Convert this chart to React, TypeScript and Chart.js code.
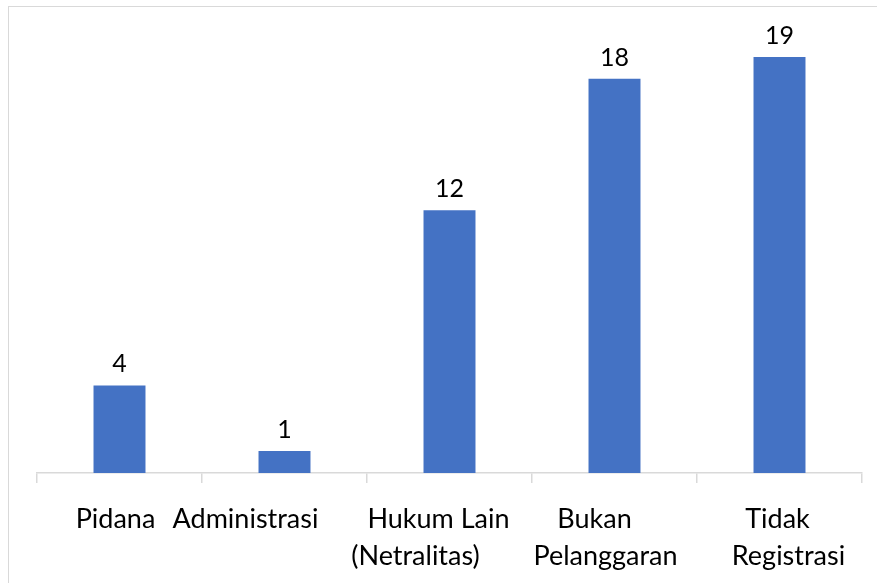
import React, { useEffect, useRef } from "react";
import { Chart, registerables } from "chart.js";

Chart.register(...registerables);

const categories: string[][] = [
  ["Pidana"],
  ["Administrasi"],
  ["Hukum Lain", "(Netralitas)"],
  ["Bukan", "Pelanggaran"],
  ["Tidak", "Registrasi"],
];
const values: number[] = [4, 1, 12, 18, 19];
const yMin = 0;
const yMax = 20;

// horizontal nudges of each wrapped label line (as laid out in the original)
const labelShift: number[][] = [[-4], [-39], [-11, -34], [-20, -9], [-2, 9]];

const FONT = "Lato, 'Open Sans', sans-serif";
const BAR = "#4472C4";
const AXIS = "#d9d9d9";

const valueLabels = {
  id: "valueLabels",
  afterDatasetsDraw(chart: any) {
    const ctx = chart.ctx;
    const meta = chart.getDatasetMeta(0);
    const data = chart.data.datasets[0].data as number[];
    ctx.save();
    ctx.font = `25px ${FONT}`;
    ctx.fillStyle = "#000";
    ctx.textAlign = "center";
    ctx.textBaseline = "alphabetic";
    meta.data.forEach((el: any, i: number) => {
      ctx.fillText(String(data[i]), el.x, el.y - 13);
    });
    ctx.restore();
  },
};

const categoryLabels = {
  id: "categoryLabels",
  afterDraw(chart: any) {
    const ctx = chart.ctx;
    const sx = chart.scales.x;
    const bottom = chart.chartArea.bottom;
    ctx.save();
    ctx.font = `27px ${FONT}`;
    ctx.fillStyle = "#000";
    ctx.textAlign = "center";
    ctx.textBaseline = "alphabetic";
    categories.forEach((lines, i) => {
      const cx = sx.getPixelForValue(i);
      lines.forEach((line, j) => {
        const dx = (labelShift[i] && labelShift[i][j]) || 0;
        ctx.fillText(line, cx + dx, bottom + 55 + j * 37);
      });
    });
    ctx.restore();
  },
};

export default function App() {
  const ref = useRef<HTMLCanvasElement | null>(null);
  useEffect(() => {
    if (!ref.current) return;
    const chart = new Chart(ref.current, {
      type: "bar",
      data: {
        labels: categories.map((c) => c.join(" ")),
        datasets: [
          {
            data: values,
            backgroundColor: BAR,
            barPercentage: 0.315,
            categoryPercentage: 1,
          },
        ],
      },
      options: {
        animation: false,
        responsive: false,
        maintainAspectRatio: false,
        layout: { padding: { left: 37, right: 15, top: 35, bottom: 100 } },
        plugins: { legend: { display: false }, tooltip: { enabled: false } },
        scales: {
          y: { display: false, min: yMin, max: yMax },
          x: {
            grid: {
              drawOnChartArea: false,
              drawTicks: true,
              tickLength: 10,
              color: AXIS,
              lineWidth: 1.5,
            },
            border: { display: true, color: AXIS, width: 1.5 },
            ticks: { display: false },
          },
        },
      },
      plugins: [valueLabels, categoryLabels],
    });
    return () => chart.destroy();
  }, []);
  return (
    <div>
      <div
        style={{
          position: "fixed",
          left: 8,
          top: 6,
          width: 1000,
          height: 1000,
          borderLeft: `1.5px solid ${AXIS}`,
          borderTop: `1.5px solid ${AXIS}`,
          boxSizing: "border-box",
        }}
      />
      <canvas
        ref={ref}
        width={877}
        height={583}
        style={{ position: "fixed", left: 0, top: 0, width: 877, height: 583 }}
      />
    </div>
  );
}
